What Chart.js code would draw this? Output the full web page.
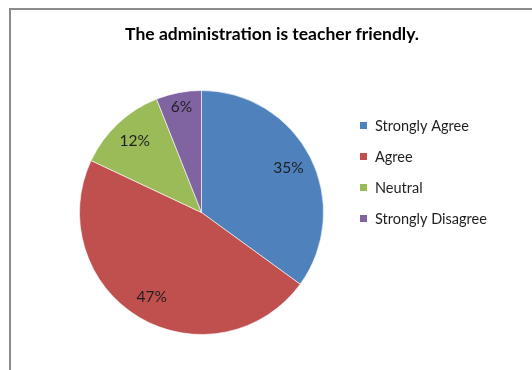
<!DOCTYPE html>
<html>
<head>
<meta charset="utf-8">
<script src="https://cdn.jsdelivr.net/npm/chart.js@4.4.1/dist/chart.umd.min.js"></script>
<style>
  html, body { margin: 0; padding: 0; background: #fff; }
  #wrap  { position: relative; width: 532px; height: 370px; overflow: hidden; }
  #frame { position: absolute; left: 9px; top: 8px; right: -5px; bottom: -5px;
           border-left: 2px solid #8c8c8c; border-top: 2px solid #8c8c8c; }
  canvas { position: absolute; left: 0; top: 0; }
</style>
</head>
<body>
<div id="wrap">
  <div id="frame"></div>
  <canvas id="pie" width="532" height="370"></canvas>
</div>
<script>
// ---- data ----
const chartTitle = 'The administration is teacher friendly.';
const categories = ['Strongly Agree', 'Agree', 'Neutral', 'Strongly Disagree'];
const shares     = [35, 47, 12, 6];
const colors     = ['#4f81bd', '#c0504d', '#9bbb59', '#8064a2'];

const FONT = 'Lato, "Open Sans", sans-serif';

// title + legend + slice labels, drawn in the Excel style
const excelBits = {
  id: 'excelBits',
  afterDatasetsDraw(chart) {
    const ctx  = chart.ctx;
    const arcs = chart.getDatasetMeta(0).data;
    const total = shares.reduce((a, b) => a + b, 0);

    ctx.save();
    // percent labels
    ctx.fillStyle = '#1f1f1f';
    ctx.font = '15.5px ' + FONT;
    ctx.textAlign = 'center';
    ctx.textBaseline = 'middle';
    arcs.forEach((arc, i) => {
      const p   = arc.getProps(['x', 'y', 'startAngle', 'endAngle', 'outerRadius'], true);
      const mid = (p.startAngle + p.endAngle) / 2;
      const r   = p.outerRadius * (shares[i] / total < 0.1 ? 0.88 : 0.8);
      ctx.fillText(shares[i] + '%', p.x + Math.cos(mid) * r, p.y + Math.sin(mid) * r);
    });

    // title
    ctx.fillStyle = '#000';
    ctx.font = 'bold 17.5px ' + FONT;
    ctx.fillText(chartTitle, 272, 34);

    // legend
    ctx.font = '14.5px ' + FONT;
    ctx.textAlign = 'left';
    categories.forEach((c, i) => {
      const y = 126 + i * 31;
      ctx.fillStyle = colors[i];
      ctx.fillRect(360, y - 4, 7, 7);
      ctx.fillStyle = '#1f1f1f';
      ctx.fillText(c, 375, y);
    });
    ctx.restore();
  }
};

new Chart(document.getElementById('pie'), {
  type: 'pie',
  data: {
    labels: categories,
    datasets: [{
      data: shares,
      backgroundColor: colors,
      borderColor: 'rgba(255,255,255,0.6)',
      borderWidth: 1
    }]
  },
  options: {
    responsive: false,
    devicePixelRatio: 1,
    animation: false,
    layout: { padding: { top: 89, bottom: 34, left: 79, right: 208 } },
    plugins: {
      legend:  { display: false },
      title:   { display: false },
      tooltip: { enabled: false }
    }
  },
  plugins: [excelBits]
});
</script>
</body>
</html>
